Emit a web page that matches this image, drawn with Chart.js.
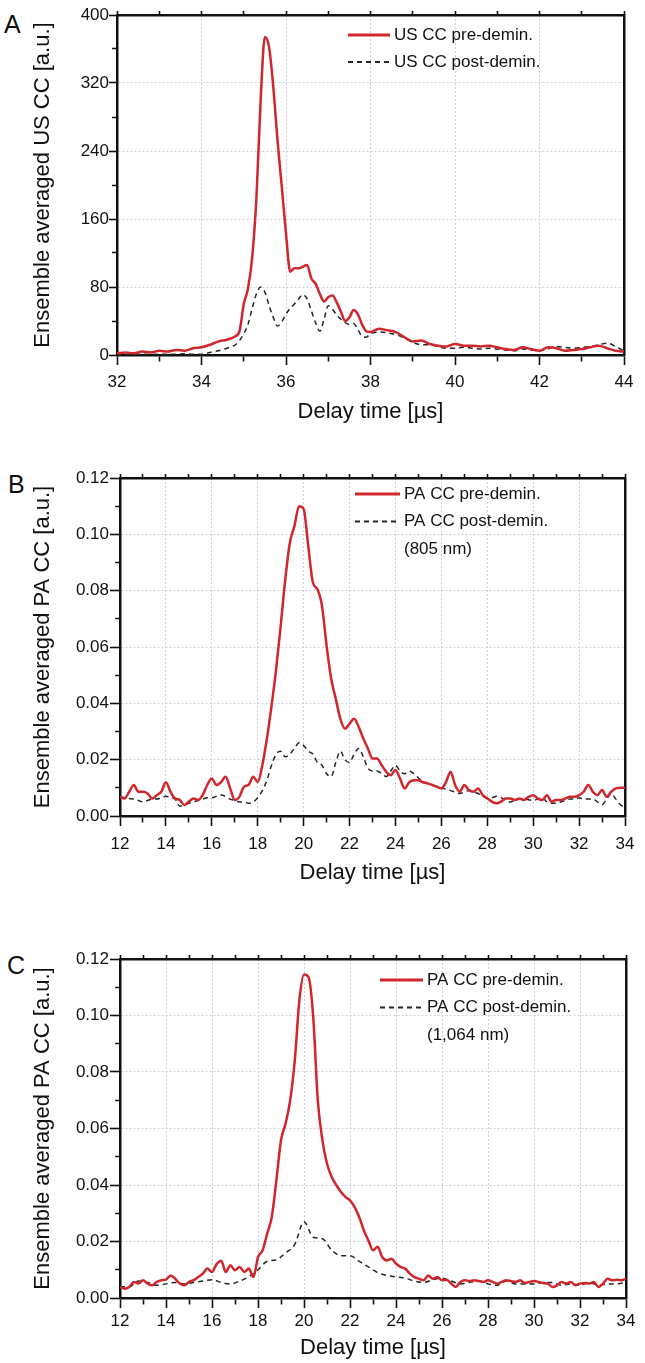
<!DOCTYPE html>
<html>
<head>
<meta charset="utf-8">
<script src="https://cdn.jsdelivr.net/npm/chart.js@4.4.1/dist/chart.umd.min.js"></script>
<style>
  body { margin: 0; background: #fff; }
  #page { position: relative; width: 645px; height: 1363px; overflow: hidden; }
  canvas { position: absolute; left: 0; }
  .panel-letter { position: absolute; font: 25px 'Liberation Sans', Arial, sans-serif; color: #111; line-height: 1; }
</style>
</head>
<body>
<div id="page">
  <div class="panel-letter" style="left:4px;top:12px">A</div>
  <div class="panel-letter" style="left:8px;top:472px">B</div>
  <div class="panel-letter" style="left:7px;top:953px">C</div>
  <canvas id="chartA" width="645" height="440" style="top:0"></canvas>
  <canvas id="chartB" width="645" height="460" style="top:440px"></canvas>
  <canvas id="chartC" width="645" height="463" style="top:900px"></canvas>
</div>
<script>
// --- panel A: ultrasound cross-correlation, delay time in µs ---
const delayA = [
  32.0, 32.2, 32.4, 32.6, 32.8, 33.0, 33.2, 33.4, 33.6, 33.8, 34.0, 34.2, 34.4, 34.6, 34.8,
  34.9, 35.0, 35.1, 35.2, 35.3, 35.4, 35.5, 35.6, 35.7, 35.8, 35.9, 36.0, 36.1, 36.2, 36.3, 36.4,
  36.5, 36.6, 36.7, 36.8, 36.9, 37.0, 37.1, 37.2, 37.3, 37.4, 37.5, 37.6, 37.7, 37.8, 37.9, 38.0,
  38.2, 38.4, 38.6, 38.8, 39.0, 39.2, 39.4, 39.6, 39.8, 40.0, 40.2, 40.4, 40.6, 40.8,
  41.0, 41.2, 41.4, 41.6, 41.8, 42.0, 42.2, 42.4, 42.6, 42.8, 43.0, 43.2, 43.4, 43.6, 43.8, 44.0
];
const usPre = [
  2, 3, 2, 4, 3, 5, 4, 6, 5, 8, 9, 12, 16, 18, 22,
  28, 60, 78, 115, 185, 300, 374, 362, 315, 252, 198, 143, 98, 102, 102, 104,
  106, 90, 84, 72, 63, 68, 70, 62, 51, 40, 44, 53, 48, 36, 28, 27,
  31, 29, 27, 21, 16, 17, 13, 11, 10, 13, 11, 11, 10, 11,
  9, 7, 6, 9, 7, 5, 9, 8, 5, 6, 7, 9, 11, 8, 5, 4
];
const usPost = [
  0, 0.5, 0.5, 1, 0.5, 1, 1, 1, 1.5, 1, 1, 3, 5, 8, 12,
  17, 25, 36, 55, 72, 80, 74, 58, 44, 34, 39, 48, 55, 60, 66, 71,
  66, 52, 38, 28, 42, 58, 54, 47, 42, 38, 36, 37, 30, 22, 21, 25,
  27, 26, 24, 20, 15, 12, 12, 10, 8, 8, 9, 8, 7, 8,
  7, 6, 5, 7, 6, 5, 7, 10, 9, 8, 9, 10, 12, 14, 10, 5
];

// --- panels B and C: photoacoustic cross-correlation ---
const delayPA = [
  12.0, 12.2, 12.4, 12.6, 12.8, 13.0, 13.2, 13.4, 13.6, 13.8,
  14.0, 14.2, 14.4, 14.6, 14.8, 15.0, 15.2, 15.4, 15.6, 15.8,
  16.0, 16.2, 16.4, 16.6, 16.8, 17.0, 17.2, 17.4, 17.6, 17.8,
  18.0, 18.2, 18.4, 18.6, 18.8, 19.0, 19.2, 19.4, 19.6, 19.8,
  20.0, 20.2, 20.4, 20.6, 20.8, 21.0, 21.2, 21.4, 21.6, 21.8,
  22.0, 22.2, 22.4, 22.6, 22.8, 23.0, 23.2, 23.4, 23.6, 23.8,
  24.0, 24.2, 24.4, 24.6, 24.8, 25.0, 25.2, 25.4, 25.6, 25.8,
  26.0, 26.2, 26.4, 26.6, 26.8, 27.0, 27.2, 27.4, 27.6, 27.8,
  28.0, 28.2, 28.4, 28.6, 28.8, 29.0, 29.2, 29.4, 29.6, 29.8,
  30.0, 30.2, 30.4, 30.6, 30.8, 31.0, 31.2, 31.4, 31.6, 31.8,
  32.0, 32.2, 32.4, 32.6, 32.8, 33.0, 33.2, 33.4, 33.6, 33.8,
  34.0
];
const pa805Pre = [
  .0068, .0062, .0086, .0110, .0086, .0086, .0080, .0062, .0074, .0086,
  .0120, .0086, .0062, .0057, .0039, .0051, .0062, .0057, .0074, .0110,
  .0133, .0110, .0120, .0139, .0098, .0057, .0068, .0104, .0110, .0139,
  .0121, .0180, .0275, .0390, .0520, .0675, .0840, .0970, .1030, .1100,
  .1090, .0960, .0830, .0805, .0746, .0605, .0487, .0416, .0345, .0310,
  .0328, .0345, .0316, .0275, .0240, .0204, .0204, .0180, .0157, .0145,
  .0163, .0133, .0098, .0120, .0127, .0127, .0120, .0116, .0110, .0104,
  .0098, .0120, .0157, .0110, .0086, .0110, .0092, .0086, .0098, .0074,
  .0062, .0051, .0045, .0051, .0062, .0062, .0057, .0062, .0057, .0068,
  .0074, .0062, .0057, .0074, .0051, .0057, .0057, .0062, .0068, .0068,
  .0074, .0086, .0110, .0086, .0074, .0092, .0068, .0086, .0098, .0100,
  .0100
];
const pa805Post = [
  .0068, .0065, .0062, .0060, .0055, .0050, .0055, .0060, .0060, .0065,
  .0070, .0065, .0060, .0035, .0040, .0045, .0050, .0055, .0060, .0065,
  .0065, .0070, .0075, .0070, .0060, .0055, .0050, .0050, .0045, .0050,
  .0065, .0090, .0127, .0180, .0220, .0230, .0210, .0220, .0240, .0260,
  .0250, .0230, .0220, .0190, .0180, .0150, .0140, .0190, .0230, .0200,
  .0190, .0220, .0240, .0210, .0170, .0160, .0160, .0150, .0140, .0160,
  .0180, .0160, .0150, .0160, .0150, .0135, .0120, .0115, .0110, .0105,
  .0100, .0095, .0090, .0085, .0080, .0085, .0090, .0085, .0080, .0070,
  .0065, .0065, .0070, .0065, .0055, .0050, .0055, .0060, .0060, .0058,
  .0055, .0060, .0065, .0050, .0045, .0045, .0050, .0055, .0060, .0060,
  .0065, .0060, .0060, .0060, .0050, .0040, .0060, .0080, .0060, .0040,
  .0030
];
const pa1064Pre = [
  .0039, .0033, .0039, .0057, .0051, .0063, .0051, .0045, .0057, .0063,
  .0065, .0080, .0068, .0051, .0045, .0057, .0063, .0074, .0086, .0104,
  .0092, .0120, .0132, .0092, .0116, .0098, .0110, .0092, .0104, .0074,
  .0145, .0169, .0228, .0287, .0417, .0559, .0618, .0700, .0842, .1055,
  .1145, .1135, .0996, .0700, .0559, .0476, .0429, .0400, .0376, .0358,
  .0346, .0322, .0287, .0240, .0204, .0169, .0181, .0145, .0133, .0139,
  .0122, .0110, .0104, .0086, .0074, .0068, .0063, .0080, .0068, .0074,
  .0063, .0065, .0051, .0039, .0057, .0063, .0060, .0063, .0060, .0057,
  .0063, .0057, .0051, .0057, .0063, .0060, .0057, .0063, .0053, .0057,
  .0060, .0057, .0053, .0051, .0039, .0045, .0057, .0051, .0057, .0045,
  .0051, .0053, .0051, .0057, .0039, .0051, .0068, .0063, .0065, .0063,
  .0068
];
const delayPACoarse = [
  12.0, 12.4, 12.8, 13.2, 13.6, 14.0, 14.4, 14.8, 15.2, 15.6,
  16.0, 16.4, 16.8, 17.2, 17.6, 18.0, 18.4, 18.8, 19.2, 19.6,
  20.0, 20.4, 20.8, 21.2, 21.6, 22.0, 22.4, 22.8, 23.2, 23.6,
  24.0, 24.4, 24.8, 25.2, 25.6, 26.0, 26.4, 26.8, 27.2, 27.6,
  28.0, 28.4, 28.8, 29.2, 29.6, 30.0, 30.4, 30.8, 31.2, 31.6,
  32.0, 32.4, 32.8, 33.2, 33.6, 34.0
];
const pa1064Post = [
  .0040, .0040, .0060, .0055, .0045, .0050, .0055, .0050, .0055, .0060,
  .0065, .0055, .0050, .0060, .0075, .0100, .0130, .0135, .0160, .0190,
  .0270, .0215, .0210, .0170, .0150, .0150, .0130, .0110, .0090, .0080,
  .0075, .0070, .0060, .0055, .0065, .0070, .0060, .0050, .0055, .0060,
  .0050, .0045, .0060, .0050, .0050, .0050, .0055, .0055, .0045, .0050,
  .0045, .0055, .0045, .0050, .0050, .0055
];

const RED = '#d0262d';
const DARK = '#262626';
const GRID = '#cbcee2';
const INK = '#111';

Chart.defaults.font.family = "'Liberation Sans', Arial, Helvetica, sans-serif";
Chart.defaults.color = INK;

function series(xs, ys) {
  return xs.map((x, i) => ({ x: x, y: ys[i] }));
}

// legend drawn inside the plot area, with an optional extra line under it
const insideLegend = {
  id: 'insideLegend',
  afterDatasetsDraw(chart, args, o) {
    const ctx = chart.ctx;
    ctx.save();
    ctx.font = "17px 'Liberation Sans', Arial, sans-serif";
    ctx.fillStyle = INK;
    ctx.textBaseline = 'middle';
    chart.data.datasets.forEach((ds, i) => {
      const y = o.y + i * o.gap;
      ctx.strokeStyle = ds.borderColor;
      ctx.lineWidth = ds.borderWidth + 0.4;
      ctx.setLineDash(ds.borderDash || []);
      ctx.beginPath();
      ctx.moveTo(o.x, y);
      ctx.lineTo(o.x + o.len, y);
      ctx.stroke();
      ctx.setLineDash([]);
      ctx.fillText(ds.label, o.x + o.len + 4, y);
    });
    if (o.note) ctx.fillText(o.note, o.x + o.len + 4, o.y + 2 * o.gap);
    ctx.restore();
  }
};

function makePanel(id, p) {
  const canvas = document.getElementById(id);
  const W = canvas.width, H = canvas.height;
  const box = p.box;
  const tickFont = { size: 17 };
  const major = c => c.index % 2 === 0;

  return new Chart(canvas, {
    type: 'line',
    data: {
      datasets: [
        { label: p.labels[0], data: series(p.preX, p.pre), borderColor: RED, borderWidth: 2.5,
          cubicInterpolationMode: 'monotone' },
        { label: p.labels[1], data: series(p.postX, p.post), borderColor: DARK, borderWidth: 1.5,
          borderDash: [5, 4], cubicInterpolationMode: 'monotone' }
      ]
    },
    options: {
      responsive: false,
      animation: false,
      devicePixelRatio: 1,
      layout: { padding: 0 },
      elements: { point: { radius: 0 } },
      plugins: {
        legend: { display: false },
        tooltip: { enabled: false },
        insideLegend: p.legend
      },
      scales: {
        x: {
          type: 'linear', position: 'bottom', min: p.xMin, max: p.xMax,
          afterFit: s => { s.height = H - box.bottom; },
          ticks: { stepSize: 1, autoSkip: false, maxRotation: 0, padding: p.xPad, font: tickFont, color: INK,
                   callback: (v, i) => (i % 2 === 0 ? String(v) : '') },
          grid: { color: c => (major(c) ? GRID : 'rgba(0,0,0,0)'), lineWidth: 1, tickLength: 10,
                  tickColor: INK, tickWidth: 1.6, tickBorderDash: c => (major(c) ? [] : [5, 40]) },
          border: { color: INK, width: 2.5, dash: [2, 2] },
          title: { display: true, text: 'Delay time [µs]', font: { size: 22 }, color: INK,
                   padding: { top: 0, bottom: p.xTitlePad } }
        },
        xTop: {
          type: 'linear', position: 'top', min: p.xMin, max: p.xMax,
          afterFit: s => { s.height = box.top; },
          ticks: { display: false, stepSize: 1, autoSkip: false },
          grid: { drawOnChartArea: false, tickLength: 4, tickColor: INK, tickWidth: 1.6 },
          border: { color: INK, width: 2.5 }
        },
        y: {
          position: 'left', min: 0, max: p.yMax,
          afterFit: s => { s.width = box.left; },
          ticks: { stepSize: p.yStep, autoSkip: false, padding: p.yPad, font: tickFont, color: INK,
                   callback: (v, i) => (i % 2 === 0 ? p.yFmt(v) : '') },
          grid: { color: c => (major(c) ? GRID : 'rgba(0,0,0,0)'), lineWidth: 1, tickLength: p.yTick,
                  tickColor: INK, tickWidth: 1.6,
                  tickBorderDash: c => (major(c) ? [] : [0, p.yTick - 5, 10, 40]) },
          border: { color: INK, width: 2.5, dash: [2, 2] },
          title: { display: true, text: p.yTitle, font: { size: 22 }, color: INK,
                   padding: { top: 30, bottom: 0 } }
        },
        yRight: {
          position: 'right', min: 0, max: p.yMax,
          afterFit: s => { s.width = W - box.right; },
          ticks: { display: false },
          grid: { display: false, drawTicks: false },
          border: { color: INK, width: 2.5 }
        }
      }
    },
    plugins: [insideLegend]
  });
}

makePanel('chartA', {
  preX: delayA, pre: usPre, postX: delayA, post: usPost,
  labels: ['US CC pre-demin.', 'US CC post-demin.'],
  xMin: 32, xMax: 44, yMax: 400, yStep: 40, yFmt: v => String(v),
  yTitle: 'Ensemble averaged US CC [a.u.]',
  box: { left: 117, top: 15, right: 624, bottom: 355 },
  xPad: 7, xTitlePad: 15, yTick: 8, yPad: 0,
  legend: { x: 348, y: 35, gap: 27, len: 42 }
});

makePanel('chartB', {
  preX: delayPA, pre: pa805Pre, postX: delayPA, post: pa805Post,
  labels: ['PA CC pre-demin.', 'PA CC post-demin.'],
  xMin: 12, xMax: 34, yMax: 0.12, yStep: 0.01, yFmt: v => v.toFixed(2),
  yTitle: 'Ensemble averaged PA CC [a.u.]',
  box: { left: 120, top: 38, right: 625, bottom: 376 },
  xPad: 8, xTitlePad: 14, yTick: 10, yPad: 1,
  legend: { x: 355, y: 54, gap: 27.5, len: 45, note: '(805 nm)' }
});

makePanel('chartC', {
  preX: delayPA, pre: pa1064Pre, postX: delayPACoarse, post: pa1064Post,
  labels: ['PA CC pre-demin.', 'PA CC post-demin.'],
  xMin: 12, xMax: 34, yMax: 0.12, yStep: 0.01, yFmt: v => v.toFixed(2),
  yTitle: 'Ensemble averaged PA CC [a.u.]',
  box: { left: 120, top: 59, right: 626, bottom: 398 },
  xPad: 3, xTitlePad: 2, yTick: 10, yPad: 1,
  legend: { x: 380, y: 80, gap: 27.5, len: 43, note: '(1,064 nm)' }
});
</script>
</body>
</html>
